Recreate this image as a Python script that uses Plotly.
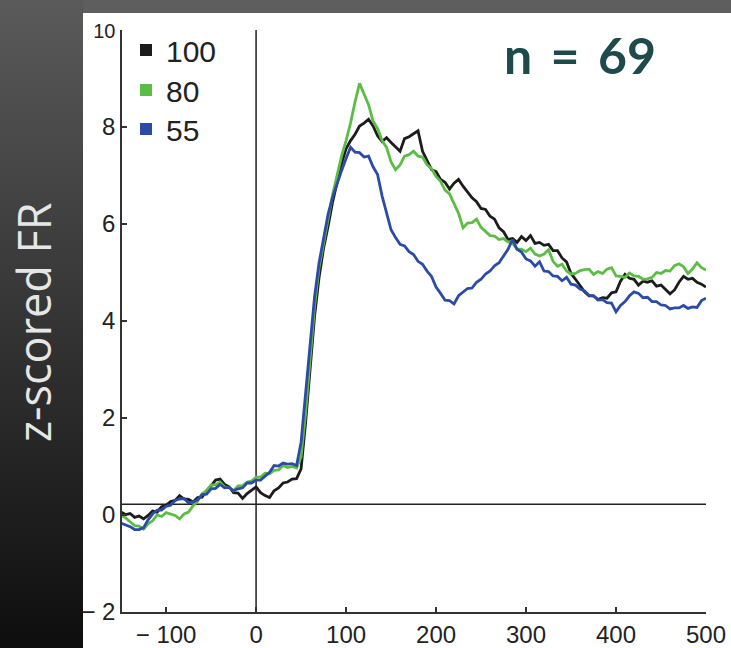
import plotly.graph_objects as go

# ---- data ----
time_ms = list(range(-150, 505, 5))

fr_100 = [0.06, 0.01, 0.03, -0.05, -0.02, -0.08, -0.01, 0.08, 0.06, 0.17,
          0.2, 0.28, 0.3, 0.4, 0.33, 0.32, 0.27, 0.36, 0.37, 0.5,
          0.6, 0.72, 0.74, 0.63, 0.58, 0.46, 0.45, 0.34, 0.44, 0.52,
          0.58, 0.46, 0.4, 0.36, 0.5, 0.56, 0.66, 0.68, 0.74, 0.75,
          0.95, 1.9, 3.1, 4.1, 4.9, 5.5, 5.95, 6.45, 6.85, 7.25,
          7.55, 7.72, 7.85, 8.02, 8.08, 8.16, 8.02, 7.82, 7.7, 7.78,
          7.68, 7.58, 7.5, 7.76, 7.8, 7.86, 7.92, 7.5, 7.32, 7.12,
          7.08, 6.92, 6.86, 6.72, 6.84, 6.92, 6.78, 6.66, 6.54, 6.46,
          6.32, 6.3, 6.16, 6.1, 5.92, 5.84, 5.68, 5.7, 5.62, 5.74,
          5.66, 5.76, 5.6, 5.62, 5.56, 5.58, 5.45, 5.45, 5.3, 5.22,
          4.98, 4.86, 4.72, 4.6, 4.52, 4.52, 4.44, 4.48, 4.47, 4.58,
          4.6, 4.82, 4.96, 4.88, 4.86, 4.74, 4.82, 4.8, 4.83, 4.72,
          4.74, 4.66, 4.56, 4.64, 4.8, 4.92, 4.86, 4.88, 4.8, 4.76,
          4.7]

fr_80 = [0.0, -0.06, -0.14, -0.22, -0.23, -0.29, -0.18, -0.12, 0.0, -0.03,
         0.05, 0.02, -0.01, -0.08, 0.02, 0.06, 0.19, 0.28, 0.44, 0.5,
         0.62, 0.62, 0.68, 0.58, 0.56, 0.5, 0.6, 0.6, 0.68, 0.7,
         0.78, 0.78, 0.86, 0.85, 0.92, 0.93, 1.02, 0.98, 1.0, 0.97,
         1.2, 2.1, 3.3, 4.3, 5.1, 5.6, 6.1, 6.6, 7.0, 7.4,
         7.72, 8.08, 8.52, 8.9, 8.68, 8.46, 8.12, 7.97, 7.72, 7.58,
         7.28, 7.12, 7.22, 7.4, 7.43, 7.5, 7.4, 7.38, 7.22, 7.14,
         6.98, 6.88, 6.7, 6.62, 6.42, 6.22, 5.92, 6.02, 6.03, 6.1,
         5.93, 5.84, 5.76, 5.75, 5.68, 5.7, 5.63, 5.6, 5.48, 5.48,
         5.43, 5.5, 5.38, 5.34, 5.38, 5.47, 5.23, 5.13, 5.17, 5.03,
         4.97, 4.98, 5.04, 5.06, 5.07, 4.96, 5.02, 4.98, 5.07, 5.1,
         4.93, 4.92, 4.9, 4.99, 4.93, 4.92, 4.86, 4.87, 4.9, 5.0,
         4.98, 5.04, 5.03, 5.14, 5.18, 5.12, 4.98, 5.07, 5.2, 5.1,
         5.05]

fr_55 = [-0.17, -0.21, -0.24, -0.3, -0.3, -0.26, -0.1, 0.02, 0.1, 0.1,
         0.18, 0.2, 0.3, 0.33, 0.34, 0.25, 0.27, 0.31, 0.42, 0.43,
         0.54, 0.55, 0.63, 0.56, 0.57, 0.5, 0.54, 0.56, 0.66, 0.66,
         0.72, 0.72, 0.8, 0.88, 1.02, 1.01, 1.07, 1.05, 1.06, 1.02,
         1.5, 2.5, 3.6, 4.5, 5.2, 5.7, 6.2, 6.55, 6.85, 7.1,
         7.35, 7.58, 7.48, 7.47, 7.38, 7.4, 7.18, 7.02, 6.58, 6.22,
         5.88, 5.72, 5.58, 5.55, 5.43, 5.37, 5.23, 5.17, 5.03, 4.92,
         4.7, 4.57, 4.43, 4.42, 4.35, 4.52, 4.6, 4.67, 4.68, 4.8,
         4.86, 4.97, 5.03, 5.14, 5.2, 5.34, 5.48, 5.68, 5.48, 5.42,
         5.28, 5.24, 5.13, 5.22, 5.03, 5.02, 4.93, 4.92, 4.83, 4.9,
         4.76, 4.74, 4.66, 4.62, 4.53, 4.52, 4.43, 4.44, 4.38, 4.37,
         4.19, 4.32, 4.4, 4.52, 4.6, 4.57, 4.48, 4.49, 4.4, 4.4,
         4.33, 4.32, 4.25, 4.27, 4.27, 4.32, 4.26, 4.29, 4.28, 4.42,
         4.47]

series_names = ["100", "80", "55"]
series_values = [fr_100, fr_80, fr_55]
series_colors = ["#1c1c1c", "#5cbd45", "#2c4aa8"]

x_tick_vals = [-100, 0, 100, 200, 300, 400, 500]
x_tick_text = ["\u2212 100", "0", "100", "200", "300", "400", "500"]
y_tick_vals = [-2, 0, 2, 4, 6, 8, 10]
y_tick_text = ["\u2212 2", "0", "2", "4", "6", "8", "<span style='font-size:20px'>10</span>"]

baseline_level = 0.22
count_label = "n \u2009= \u200969"
y_label = "z-scored FR"

# ---- figure ----
W, H = 731, 648
L, R, T, B = 122, 25, 30, 36
pw, ph = W - L - R, H - T - B

def px_x(px):
    return (px - L) / pw

def px_y(py):
    return (H - B - py) / ph

fig = go.Figure()

for name, vals, col in zip(series_names, series_values, series_colors):
    fig.add_trace(go.Scatter(x=time_ms, y=vals, mode="lines", line=dict(color=col, width=2.8),
                             showlegend=False, hoverinfo="skip"))

legend_rows_px = [50, 90, 129]
legend_ids = ["legend", "legend2", "legend3"]
for name, col, lid in zip(series_names, series_colors, legend_ids):
    fig.add_trace(go.Scatter(x=[None], y=[None], mode="markers", name=name, legend=lid,
                             marker=dict(symbol="square", size=15, color=col)))

shapes = []
# white panel
shapes.append(dict(type="rect", xref="paper", yref="paper", layer="below",
                   x0=px_x(83), x1=px_x(W + 5), y0=px_y(H + 5), y1=px_y(13),
                   fillcolor="white", line=dict(width=0)))
# left gradient strip
nb = 81
for i in range(nb):
    y0p = i * H / nb
    y1p = (i + 1) * H / nb
    v = int(round(90 - (90 - 14) * (y0p + y1p) / 2 / H))
    c = f"rgb({v},{v},{v})"
    shapes.append(dict(type="rect", xref="paper", yref="paper", layer="below",
                       x0=px_x(-2), x1=px_x(83), y0=px_y(y1p + 0.5), y1=px_y(y0p),
                       fillcolor=c, line=dict(width=0)))
fig.update_layout(shapes=shapes)

fig.add_vline(x=0, line=dict(color="#222", width=1.5), layer="below")
fig.add_hline(y=baseline_level, line=dict(color="#222", width=1.5), layer="below")

fig.add_annotation(text=f"<b>{count_label}</b>", xref="paper", yref="paper",
                   x=px_x(580), y=px_y(55), xanchor="center", yanchor="middle", showarrow=False,
                   font=dict(family="Lato", size=50, color="#1f4a4c"))
fig.add_annotation(text=y_label, xref="paper", yref="paper", x=px_x(33), y=px_y(322),
                   xanchor="center", yanchor="middle",
                   textangle=-90, showarrow=False,
                   font=dict(family="Open Sans", size=45, color="#e6e6e6"))

axis_common = dict(showline=True, linecolor="#333", linewidth=1.5, ticks="inside", ticklen=5,
                   tickwidth=1.5, tickcolor="#333", showgrid=False, zeroline=False, automargin=False)
fig.update_xaxes(range=[-149, 500], tickvals=x_tick_vals, ticktext=x_tick_text,
                 ticklabelstandoff=0,
                 tickfont=dict(family="Liberation Sans, Arial", size=24, color="#222"), **axis_common)
fig.update_yaxes(range=[-2, 10], tickvals=y_tick_vals, ticktext=y_tick_text,
                 tickfont=dict(family="Liberation Sans, Arial", size=24, color="#222"), **axis_common)

legend_style = dict(xanchor="left", yanchor="middle", bgcolor="rgba(0,0,0,0)",
                    font=dict(family="Liberation Sans, Arial", size=30, color="#222"),
                    itemsizing="constant")
fig.update_layout(
    width=W, height=H,
    margin=dict(l=L, r=R, t=T, b=B),
    paper_bgcolor="#5e5e5e", plot_bgcolor="white",
    legend=dict(x=px_x(126), y=px_y(legend_rows_px[0]), **legend_style),
    legend2=dict(x=px_x(126), y=px_y(legend_rows_px[1]), **legend_style),
    legend3=dict(x=px_x(126), y=px_y(legend_rows_px[2]), **legend_style),
)

fig.write_html("out.html", config={"displayModeBar": False},
               post_script="document.body.style.margin='0px';document.body.style.overflow='hidden';")
